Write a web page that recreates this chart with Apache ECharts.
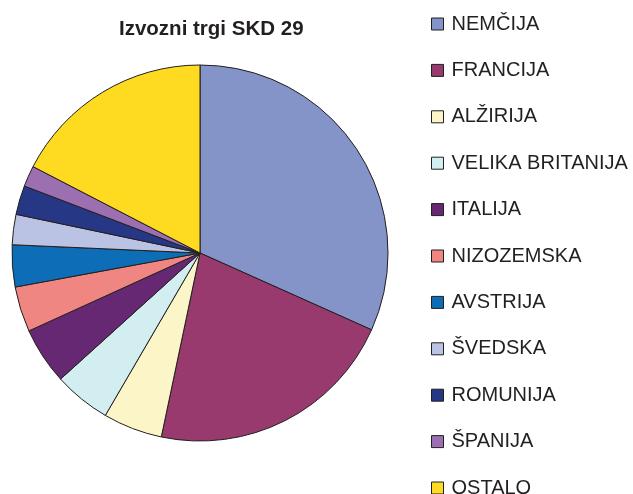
<!DOCTYPE html>
<html>
<head>
<meta charset="utf-8">
<script src="https://cdn.jsdelivr.net/npm/echarts@6/dist/echarts.min.js"></script>
<style>
  html, body { margin: 0; padding: 0; background: #fff; }
  #chart { width: 633px; height: 494px; }
</style>
</head>
<body>
<div id="chart"></div>
<script>
  // deleži izvoza po trgih (%), ocenjeno iz slike
  var countries = ['NEMČIJA', 'FRANCIJA', 'ALŽIRIJA', 'VELIKA BRITANIJA', 'ITALIJA',
    'NIZOZEMSKA', 'AVSTRIJA', 'ŠVEDSKA', 'ROMUNIJA', 'ŠPANIJA', 'OSTALO']
  var shares = [31.7, 21.6, 5.1, 4.9, 4.9, 3.9, 3.6, 2.6, 2.5, 1.8, 17.4]
  var colors = ['#8594c8', '#993a6e', '#fbf5c8', '#d3eef0', '#662873',
    '#f08682', '#0e6db7', '#bac3e3', '#263785', '#9c6fb0', '#feda21']

  var chart = echarts.init(document.getElementById('chart'))
  chart.setOption({
    backgroundColor: '#fff',
    color: colors,
    animation: false,
    title: {
      text: 'Izvozni trgi SKD 29',
      left: 114,
      top: 14,
      textStyle: {
        fontFamily: 'Liberation Sans, Arial, sans-serif',
        fontSize: 20.5,
        fontWeight: 'bold',
        color: '#231f20'
      }
    },
    legend: {
      orient: 'vertical',
      left: 431,
      top: 14,
      height: 520,
      padding: 0,
      icon: 'rect',
      itemWidth: 12,
      itemHeight: 12,
      itemGap: 26.4,
      itemStyle: { borderColor: '#231f20', borderWidth: 1 },
      textStyle: {
        fontFamily: 'Liberation Sans, Arial, sans-serif',
        fontSize: 20,
        lineHeight: 20,
        color: '#231f20',
        padding: [0, 0, 0, 3]
      },
      data: countries
    },
    series: [{
      type: 'pie',
      center: [200, 253],
      radius: 188,
      startAngle: 90,
      clockwise: true,
      label: { show: false },
      labelLine: { show: false },
      emphasis: { disabled: true },
      itemStyle: { borderColor: '#231f20', borderWidth: 1 },
      data: countries.map(function (c, i) {
        return { name: c, value: shares[i] }
      })
    }]
  })
</script>
</body>
</html>
